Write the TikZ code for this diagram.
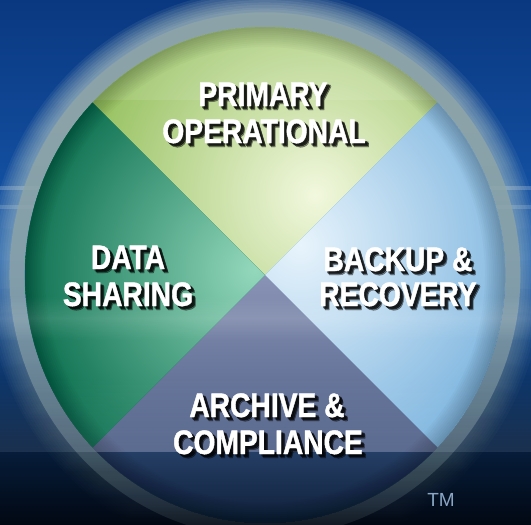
\documentclass[tikz,border=0pt]{standalone}
\usepackage{fontspec}
\newfontfamily\labfont{Liberation Sans}[FakeStretch=0.83, FakeBold=1.2]
\newfontfamily\tmfont{Liberation Sans}
\usetikzlibrary{fadings}
\definecolor{bgtop}{HTML}{0A3880}
\definecolor{bgmid}{HTML}{1659AE}
\definecolor{bgbot}{HTML}{020914}
\definecolor{glowc}{HTML}{F0F8DA}
\definecolor{ringc}{HTML}{8CA3A8}
\definecolor{topi}{HTML}{F2F8DE}
\definecolor{topo}{HTML}{98C262}
\definecolor{rti}{HTML}{E8F4FC}
\definecolor{rto}{HTML}{7AB3DE}
\definecolor{lfi}{HTML}{94D8BC}
\definecolor{lfo}{HTML}{0C7050}
\definecolor{boti}{HTML}{8993B5}
\definecolor{boto}{HTML}{4E5F87}
\definecolor{botdA}{HTML}{28446E}
\definecolor{botdB}{HTML}{10213C}
\definecolor{tmc}{HTML}{8AA6C4}
\tikzfading[name=glowfade, top color=transparent!0, bottom color=transparent!100, middle color=transparent!45]
\tikzfading[name=ringfade, top color=transparent!0, bottom color=transparent!90, middle color=transparent!20]
\tikzfading[name=bandfade, top color=transparent!100, bottom color=transparent!100, middle color=transparent!0]
\tikzfading[name=bandup, top color=transparent!100, bottom color=transparent!0]
\tikzset{
  lab/.style={font=\labfont\bfseries\fontsize{34}{37}\selectfont, text=white, anchor=base, inner sep=0pt},
  labsh/.style={lab, text=black, text opacity=0.4},
  tmstyle/.style={font=\tmfont\fontsize{19}{19}\selectfont, text=tmc, anchor=base, inner sep=0pt}
}
\newcommand\lbl[4]{%
  \foreach \dx/\dy/\i in {2/2/a,3/3/b,4/4/c,3.5/2.5/d}{
    \node[labsh] (#1sh\i) at (#2+\dx,#3+\dy) {#4};
  }
  \node[lab] (#1) at (#2,#3) {#4};
}
\begin{document}
\begin{tikzpicture}[x=1pt,y=-1pt]
\useasboundingbox (0,0) rectangle (531,525);
\begin{scope}
\clip (0,0) rectangle (531,525);
% background
\shade[top color=bgtop, bottom color=bgbot, middle color=bgmid] (0,0) rectangle (531,525);
% light streaks behind the disc
\fill[white, opacity=0.2] (0,186) rectangle (531,190);
\fill[white, opacity=0.16] (0,205) rectangle (531,209);
% glow
\foreach \k in {1,...,10}{
  \fill[glowc, opacity=0.08, path fading=glowfade] (265,275) ellipse [x radius={254+2.4*\k}, y radius={261+2.4*\k}];
}
% ring
\draw[ringc, line width=15pt, path fading=ringfade] (265,275) ellipse [x radius=248, y radius=255];
% disc
\begin{scope}
  \clip (265,275) ellipse [x radius=240, y radius=248];
  % top sector
  \begin{scope}
    \clip (265,275) -- (-135,-125) -- (665,-125) -- cycle;
    \fill[topo] (0,0) rectangle (531,525);
    \shade[inner color=topi, outer color=topo] (315,195) circle (230);
    \fill[white, opacity=0.1] (0,0) rectangle (531,100);
  \end{scope}
  % right sector
  \begin{scope}
    \clip (265,275) -- (665,-125) -- (665,675) -- cycle;
    \fill[rto] (0,0) rectangle (531,525);
    \shade[inner color=rti, outer color=rto] (300,245) circle (240);
  \end{scope}
  % bottom sector
  \begin{scope}
    \clip (265,275) -- (665,675) -- (-135,675) -- cycle;
    \shade[top color=boti, bottom color=boto] (0,275) rectangle (531,452);
    \shade[top color=botdA, bottom color=botdB] (0,452) rectangle (531,525);
  \end{scope}
  % left sector
  \begin{scope}
    \clip (265,275) -- (-135,675) -- (-135,-125) -- cycle;
    \fill[lfo] (0,0) rectangle (531,525);
    \shade[inner color=lfi, outer color=lfo] (255,270) circle (235);
  \end{scope}
  % edge vignette
  \foreach \k in {1,...,10}{
    \draw[black, opacity=0.025, line width={4*\k}] (265,275) ellipse [x radius=240, y radius=248];
  }
\end{scope}
% horizontal glass bands
\fill[white, opacity=0.12, path fading=bandfade] (0,296) rectangle (531,340);
\fill[white, opacity=0.08, path fading=bandup] (0,375) rectangle (531,452);
\fill[black, opacity=0.08] (0,452) rectangle (531,525);
\end{scope}
% labels
\lbl{prim}{263}{106}{PRIMARY}
\lbl{oper}{264}{143}{OPERATIONAL}
\lbl{data}{128}{269}{DATA}
\lbl{shar}{128}{306}{SHARING}
\lbl{back}{398}{271}{BACKUP \&}
\lbl{reco}{398}{306}{RECOVERY}
\lbl{arch}{267}{417}{ARCHIVE \&}
\lbl{comp}{268}{454}{COMPLIANCE}
\node[tmstyle] (tm) at (441,506) {TM};
\end{tikzpicture}
\end{document}
